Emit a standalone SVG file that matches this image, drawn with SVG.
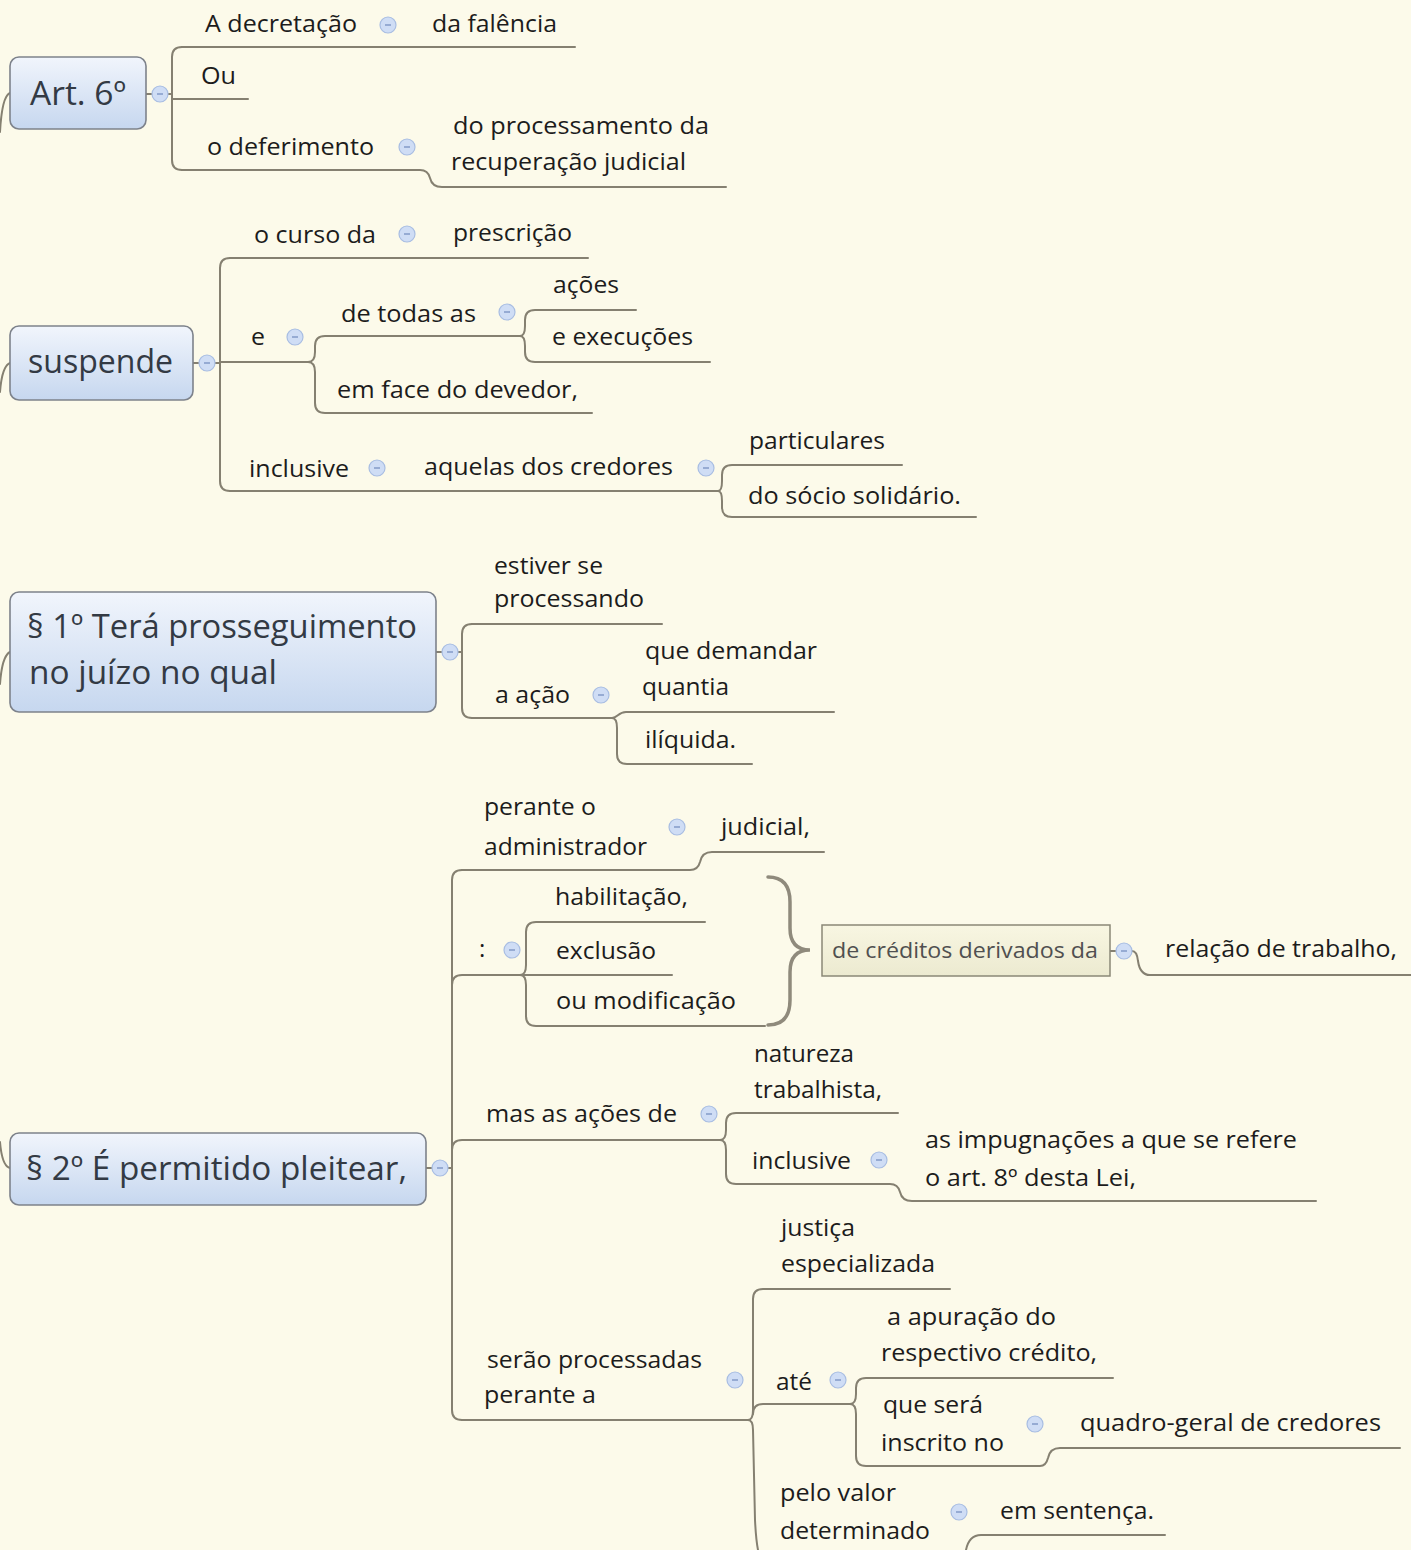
<svg xmlns="http://www.w3.org/2000/svg" xmlns:xlink="http://www.w3.org/1999/xlink" width="1411" height="1550" viewBox="0 0 1411 1550">
<style>
.t{font-family:"Open Sans","Noto Sans","DejaVu Sans",sans-serif;font-size:24px;fill:#1c1c1c}
.big{font-family:"Open Sans","Noto Sans","DejaVu Sans",sans-serif;font-size:33px;fill:#333a44}
.sm{font-family:"Open Sans","Noto Sans","DejaVu Sans",sans-serif;font-size:21px;fill:#505050}
.ln{fill:none;stroke:#858071;stroke-width:2;stroke-linecap:round}
.box{fill:url(#bg);stroke:#7d828b;stroke-width:1.6}
.brace{fill:none;stroke:#8f8a7c;stroke-width:3.5;stroke-linecap:round}
</style>
<defs>
<linearGradient id="bg" x1="0" y1="0" x2="0" y2="1">
<stop offset="0" stop-color="#f1f5fc"/>
<stop offset="1" stop-color="#c6d7ef"/>
</linearGradient>
<linearGradient id="yg" x1="0" y1="0" x2="0" y2="1">
<stop offset="0" stop-color="#f8f6e2"/>
<stop offset="1" stop-color="#ecead0"/>
</linearGradient>
<g id="btn">
<circle cx="0" cy="0" r="8" fill="#cfddf5" stroke="#a8bde2" stroke-width="1.2"/>
<line x1="-3" y1="0" x2="3" y2="0" stroke="#7d95c4" stroke-width="1.4"/>
</g>
</defs>
<rect width="1411" height="1550" fill="#fcfaea"/>

<g id="connectors">
<!-- incoming from left -->
<path class="ln" d="M0,132 Q2,96 10,93"/>
<path class="ln" d="M0,392 Q2,366 10,363"/>
<path class="ln" d="M0,684 Q2,656 10,652"/>
<path class="ln" d="M0,1142 Q2,1166 10,1168"/>
<!-- Art. 6 -->
<path class="ln" d="M146,94 L172,94"/>
<path class="ln" d="M182,47 Q172,47 172,57 L172,160 Q172,170 182,170"/>
<path class="ln" d="M182,47 L575,47"/>
<path class="ln" d="M172,99 L248,99"/>
<path class="ln" d="M182,170 L420,170 Q428,170 430,178 Q432,187 442,187 L726,187"/>
<!-- suspende -->
<path class="ln" d="M193,363 L220,363"/>
<path class="ln" d="M230,258 Q220,258 220,268 L220,481 Q220,491 230,491"/>
<path class="ln" d="M230,258 L588,258"/>
<path class="ln" d="M220,362 L308,362"/>
<path class="ln" d="M308,362 Q315,362 315,352 L315,346 Q315,336 325,336 L520,336"/>
<path class="ln" d="M308,362 Q315,362 315,372 L315,403 Q315,413 325,413 L592,413"/>
<path class="ln" d="M520,336 Q525,336 525,326 L525,320 Q525,310 535,310 L636,310"/>
<path class="ln" d="M520,336 Q525,336 525,346 L525,352 Q525,362 535,362 L710,362"/>
<path class="ln" d="M230,491 L718,491"/>
<path class="ln" d="M718,491 Q722,491 722,481 L722,475 Q722,465 732,465 L902,465"/>
<path class="ln" d="M718,491 Q722,491 722,501 L722,507 Q722,517 732,517 L976,517"/>
<!-- §1 -->
<path class="ln" d="M436,652 L462,652"/>
<path class="ln" d="M472,624 Q462,624 462,634 L462,708 Q462,718 472,718"/>
<path class="ln" d="M472,624 L662,624"/>
<path class="ln" d="M472,718 L612,718"/>
<path class="ln" d="M612,718 C618,718 618,712 626,712 L834,712"/>
<path class="ln" d="M612,718 Q617,718 617,728 L617,754 Q617,764 627,764 L752,764"/>
<!-- §2 -->
<path class="ln" d="M426,1168 L452,1168"/>
<path class="ln" d="M462,870 Q452,870 452,880 L452,1410 Q452,1420 462,1420"/>
<path class="ln" d="M462,870 L690,870 Q698,870 700,862 Q702,852 712,852 L824,852"/>
<path class="ln" d="M452,985 Q452,975 462,975 L520,975"/>
<path class="ln" d="M520,975 Q526,975 526,965 L526,932 Q526,922 536,922 L705,922"/>
<path class="ln" d="M520,975 L672,975"/>
<path class="ln" d="M520,975 Q526,975 526,985 L526,1016 Q526,1026 536,1026 L765,1026"/>
<path class="brace" d="M768,877 Q790,877 790,902 L790,928 Q790,950 810,950 Q790,950 790,972 L790,1000 Q790,1025 768,1025"/>
<path class="ln" d="M1110,951 L1132,951 Q1137,951 1138,961 Q1140,975 1150,975 L1411,975"/>
<path class="ln" d="M452,1150 Q452,1140 462,1140 L720,1140"/>
<path class="ln" d="M720,1140 Q726,1140 726,1130 L726,1123 Q726,1113 736,1113 L898,1113"/>
<path class="ln" d="M720,1140 Q726,1140 726,1150 L726,1174 Q726,1184 736,1184 L890,1184 Q898,1184 900,1192 Q902,1201 912,1201 L1316,1201"/>
<path class="ln" d="M462,1420 L748,1420"/>
<path class="ln" d="M748,1420 Q753,1420 753,1410 L753,1299 Q753,1289 763,1289 L950,1289"/>
<path class="ln" d="M748,1420 Q753,1420 753,1430 L755,1520 Q756,1540 758,1550"/>
<path class="ln" d="M753,1414 Q753,1404 763,1404 L850,1404"/>
<path class="ln" d="M850,1404 Q856,1404 856,1394 L856,1388 Q856,1378 866,1378 L1113,1378"/>
<path class="ln" d="M850,1404 Q856,1404 856,1414 L856,1456 Q856,1466 866,1466 L1040,1466 Q1046,1466 1048,1458 Q1050,1448 1060,1448 L1400,1448"/>
<path class="ln" d="M966,1550 Q969,1535 981,1535 L1165,1535"/>
</g>

<g id="n-art6">
<rect class="box" x="10" y="57" width="136" height="72" rx="9"/>
<text class="big" x="30" y="105" textLength="96" lengthAdjust="spacingAndGlyphs">Art. 6º</text>
<use href="#btn" x="160" y="94"/>
</g>
<g id="n-decretacao">
<text class="t" x="205" y="32" textLength="152" lengthAdjust="spacingAndGlyphs">A decretação</text>
<use href="#btn" x="388" y="25"/>
</g>
<g id="n-falencia"><text class="t" x="432" y="32" textLength="125" lengthAdjust="spacingAndGlyphs">da falência</text></g>
<g id="n-ou"><text class="t" x="201" y="84" textLength="35" lengthAdjust="spacingAndGlyphs">Ou</text></g>
<g id="n-deferimento">
<text class="t" x="207" y="155" textLength="167" lengthAdjust="spacingAndGlyphs">o deferimento</text>
<use href="#btn" x="407" y="147"/>
</g>
<g id="n-processamento">
<text class="t" x="453" y="134" textLength="256" lengthAdjust="spacingAndGlyphs">do processamento da</text>
<text class="t" x="451" y="170" textLength="235" lengthAdjust="spacingAndGlyphs">recuperação judicial</text>
</g>

<g id="n-suspende">
<rect class="box" x="10" y="326" width="183" height="74" rx="9"/>
<text class="big" x="28" y="373" textLength="145" lengthAdjust="spacingAndGlyphs">suspende</text>
<use href="#btn" x="207" y="363"/>
</g>
<g id="n-curso">
<text class="t" x="254" y="243" textLength="122" lengthAdjust="spacingAndGlyphs">o curso da</text>
<use href="#btn" x="407" y="234"/>
</g>
<g id="n-prescricao"><text class="t" x="453" y="241" textLength="119" lengthAdjust="spacingAndGlyphs">prescrição</text></g>
<g id="n-e">
<text class="t" x="251" y="345" textLength="14" lengthAdjust="spacingAndGlyphs">e</text>
<use href="#btn" x="295" y="337"/>
</g>
<g id="n-todas">
<text class="t" x="341" y="322" textLength="135" lengthAdjust="spacingAndGlyphs">de todas as</text>
<use href="#btn" x="507" y="312"/>
</g>
<g id="n-acoes"><text class="t" x="553" y="293" textLength="66" lengthAdjust="spacingAndGlyphs">ações</text></g>
<g id="n-execucoes"><text class="t" x="552" y="345" textLength="141" lengthAdjust="spacingAndGlyphs">e execuções</text></g>
<g id="n-devedor"><text class="t" x="337" y="398" textLength="241" lengthAdjust="spacingAndGlyphs">em face do devedor,</text></g>
<g id="n-inclusive1">
<text class="t" x="249" y="477" textLength="100" lengthAdjust="spacingAndGlyphs">inclusive</text>
<use href="#btn" x="377" y="468"/>
</g>
<g id="n-aquelas">
<text class="t" x="424" y="475" textLength="249" lengthAdjust="spacingAndGlyphs">aquelas dos credores</text>
<use href="#btn" x="706" y="468"/>
</g>
<g id="n-particulares"><text class="t" x="749" y="449" textLength="136" lengthAdjust="spacingAndGlyphs">particulares</text></g>
<g id="n-socio"><text class="t" x="748" y="504" textLength="213" lengthAdjust="spacingAndGlyphs">do sócio solidário.</text></g>

<g id="n-p1">
<rect class="box" x="10" y="592" width="426" height="120" rx="9"/>
<text class="big" x="27" y="638" textLength="390" lengthAdjust="spacingAndGlyphs">§ 1º Terá prosseguimento</text>
<text class="big" x="29" y="684" textLength="248" lengthAdjust="spacingAndGlyphs">no juízo no qual</text>
<use href="#btn" x="450" y="652"/>
</g>
<g id="n-estiver">
<text class="t" x="494" y="574" textLength="109" lengthAdjust="spacingAndGlyphs">estiver se</text>
<text class="t" x="494" y="607" textLength="150" lengthAdjust="spacingAndGlyphs">processando</text>
</g>
<g id="n-acao">
<text class="t" x="495" y="703" textLength="75" lengthAdjust="spacingAndGlyphs">a ação</text>
<use href="#btn" x="601" y="695"/>
</g>
<g id="n-demandar">
<text class="t" x="645" y="659" textLength="172" lengthAdjust="spacingAndGlyphs">que demandar</text>
<text class="t" x="642" y="695" textLength="87" lengthAdjust="spacingAndGlyphs">quantia</text>
</g>
<g id="n-iliquida"><text class="t" x="645" y="748" textLength="91" lengthAdjust="spacingAndGlyphs">ilíquida.</text></g>

<g id="n-p2">
<rect class="box" x="10" y="1133" width="416" height="72" rx="9"/>
<text class="big" x="26" y="1180" textLength="381" lengthAdjust="spacingAndGlyphs">§ 2º É permitido pleitear,</text>
<use href="#btn" x="440" y="1168"/>
</g>
<g id="n-perante">
<text class="t" x="484" y="815" textLength="112" lengthAdjust="spacingAndGlyphs">perante o</text>
<text class="t" x="484" y="855" textLength="163" lengthAdjust="spacingAndGlyphs">administrador</text>
<use href="#btn" x="677" y="827"/>
</g>
<g id="n-judicial"><text class="t" x="721" y="835" textLength="89" lengthAdjust="spacingAndGlyphs">judicial,</text></g>
<g id="n-colon">
<text class="t" x="479" y="957">:</text>
<use href="#btn" x="512" y="950"/>
</g>
<g id="n-habilitacao"><text class="t" x="555" y="905" textLength="133" lengthAdjust="spacingAndGlyphs">habilitação,</text></g>
<g id="n-exclusao"><text class="t" x="556" y="959" textLength="100" lengthAdjust="spacingAndGlyphs">exclusão</text></g>
<g id="n-modificacao"><text class="t" x="556" y="1009" textLength="180" lengthAdjust="spacingAndGlyphs">ou modificação</text></g>
<g id="n-creditos">
<rect x="822" y="925" width="288" height="51" fill="url(#yg)" stroke="#8a8877" stroke-width="1.5"/>
<text class="sm" x="832" y="958" textLength="266" lengthAdjust="spacingAndGlyphs">de créditos derivados da</text>
<use href="#btn" x="1124" y="951"/>
</g>
<g id="n-relacao"><text class="t" x="1165" y="957" textLength="232" lengthAdjust="spacingAndGlyphs">relação de trabalho,</text></g>
<g id="n-mas">
<text class="t" x="486" y="1122" textLength="191" lengthAdjust="spacingAndGlyphs">mas as ações de</text>
<use href="#btn" x="709" y="1114"/>
</g>
<g id="n-natureza">
<text class="t" x="754" y="1062" textLength="100" lengthAdjust="spacingAndGlyphs">natureza</text>
<text class="t" x="754" y="1098" textLength="128" lengthAdjust="spacingAndGlyphs">trabalhista,</text>
</g>
<g id="n-inclusive2">
<text class="t" x="752" y="1169" textLength="99" lengthAdjust="spacingAndGlyphs">inclusive</text>
<use href="#btn" x="879" y="1160"/>
</g>
<g id="n-impugnacoes">
<text class="t" x="925" y="1148" textLength="372" lengthAdjust="spacingAndGlyphs">as impugnações a que se refere</text>
<text class="t" x="925" y="1186" textLength="211" lengthAdjust="spacingAndGlyphs">o art. 8º desta Lei,</text>
</g>
<g id="n-serao">
<text class="t" x="487" y="1368" textLength="215" lengthAdjust="spacingAndGlyphs">serão processadas</text>
<text class="t" x="484" y="1403" textLength="112" lengthAdjust="spacingAndGlyphs">perante a</text>
<use href="#btn" x="735" y="1380"/>
</g>
<g id="n-justica">
<text class="t" x="781" y="1236" textLength="74" lengthAdjust="spacingAndGlyphs">justiça</text>
<text class="t" x="781" y="1272" textLength="154" lengthAdjust="spacingAndGlyphs">especializada</text>
</g>
<g id="n-ate">
<text class="t" x="776" y="1390" textLength="36" lengthAdjust="spacingAndGlyphs">até</text>
<use href="#btn" x="838" y="1380"/>
</g>
<g id="n-apuracao">
<text class="t" x="887" y="1325" textLength="169" lengthAdjust="spacingAndGlyphs">a apuração do</text>
<text class="t" x="881" y="1361" textLength="216" lengthAdjust="spacingAndGlyphs">respectivo crédito,</text>
</g>
<g id="n-inscrito">
<text class="t" x="883" y="1413" textLength="100" lengthAdjust="spacingAndGlyphs">que será</text>
<text class="t" x="881" y="1451" textLength="123" lengthAdjust="spacingAndGlyphs">inscrito no</text>
<use href="#btn" x="1035" y="1424"/>
</g>
<g id="n-quadro"><text class="t" x="1080" y="1431" textLength="301" lengthAdjust="spacingAndGlyphs">quadro-geral de credores</text></g>
<g id="n-pelo">
<text class="t" x="780" y="1501" textLength="116" lengthAdjust="spacingAndGlyphs">pelo valor</text>
<text class="t" x="780" y="1539" textLength="150" lengthAdjust="spacingAndGlyphs">determinado</text>
<use href="#btn" x="959" y="1512"/>
</g>
<g id="n-sentenca"><text class="t" x="1000" y="1519" textLength="154" lengthAdjust="spacingAndGlyphs">em sentença.</text></g>
</svg>
